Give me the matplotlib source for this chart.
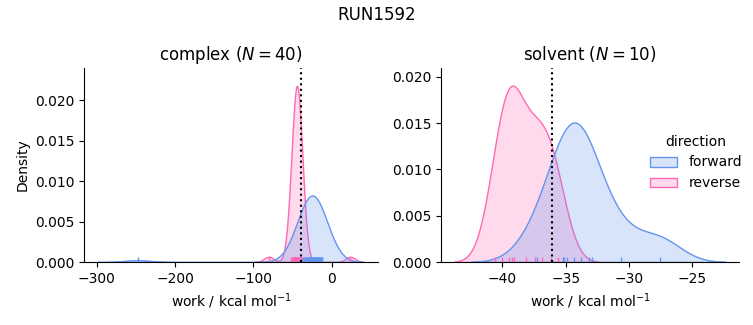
import numpy as np
import pandas as pd
import matplotlib
matplotlib.use("Agg")
import matplotlib.pyplot as plt
import seaborn as sns

# work values (kcal/mol)
complex_forward = [-247.5,
                   -41.0, -38.5, -37.2, -36.0, -35.1, -34.0, -33.2, -32.5, -31.8, -31.0,
                   -30.3, -29.6, -29.0, -28.4, -27.8, -27.2, -26.6, -26.0, -25.5, -25.0,
                   -24.4, -23.8, -23.2, -22.6, -22.0, -21.4, -20.8, -20.1, -19.5, -18.8,
                   -18.1, -17.4, -16.7, -15.9, -15.1, -14.3, -13.5, -12.8, -12.0]
complex_reverse = [-80.5, 23.5,
                   -52.5, -51.0, -50.2, -49.5, -48.9, -48.4, -47.9, -47.5, -47.1, -46.8,
                   -46.5, -46.2, -45.9, -45.7, -45.5, -45.3, -45.1, -44.9, -44.7, -44.5,
                   -44.3, -44.1, -43.9, -43.6, -43.3, -43.0, -42.7, -42.4, -42.1, -41.8,
                   -41.5, -41.2, -40.9, -40.6, -40.3, -40.0, -39.5, -38.8]
solvent_forward = [-37.3, -35.25, -35.1, -34.9, -34.35, -33.8, -33.15, -32.95, -30.6, -27.55]
solvent_reverse = [-40.6, -40.0, -39.45, -39.25, -39.05, -38.1, -37.4, -36.9, -36.2, -35.6]

# free energy estimate (dotted line) per phase
dg_estimate = {"complex": -40.0, "solvent": -36.1}
phases = ["complex", "solvent"]
directions = ["forward", "reverse"]
palette = {"forward": "cornflowerblue", "reverse": "hotpink"}

rows = []
for phase, d, vals in [("complex", "forward", complex_forward),
                       ("complex", "reverse", complex_reverse),
                       ("solvent", "forward", solvent_forward),
                       ("solvent", "reverse", solvent_reverse)]:
    for v in vals:
        rows.append({"phase": phase, "direction": d, "work": v})
df = pd.DataFrame(rows)

g = sns.displot(data=df, x="work", hue="direction", col="phase",
                kind="kde", fill=True, rug=True, palette=palette,
                hue_order=directions, col_order=phases,
                facet_kws=dict(sharex=False, sharey=False))

fig = g.figure
fig.set_size_inches(7.53, 3.25)

W, H = 753, 325
boxes = [(84, 68, 378, 262), (441, 68, 739, 262)]
for ax, phase, (x0, y0, x1, y1) in zip(g.axes.flat, phases, boxes):
    ax.set_position([x0 / W, 1 - y1 / H, (x1 - x0) / W, (y1 - y0) / H])
    n = len(df[(df.phase == phase) & (df.direction == "forward")])
    ax.set_title(f"{phase} ($N={n}$)")
    ax.axvline(dg_estimate[phase], color="k", ls=":", lw=1.5)
    ax.set_xlabel("work / kcal mol$^{-1}$")

g.axes.flat[0].set_ylabel("Density")
g.axes.flat[1].set_ylabel("")

sns.move_legend(g, "center left", bbox_to_anchor=(0.846, 0.5), frameon=False)
fig.suptitle("RUN1592")

fig.savefig("out.png", dpi=100)
